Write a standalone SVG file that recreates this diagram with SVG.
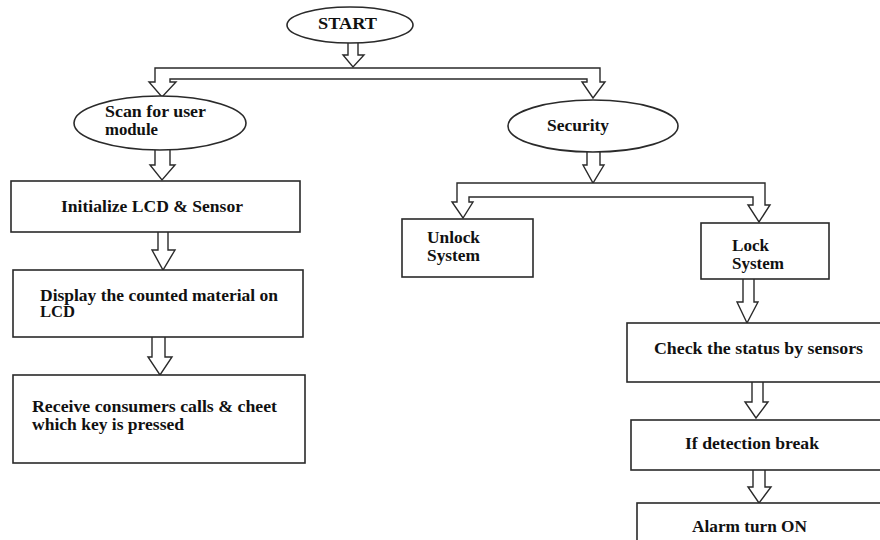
<svg xmlns="http://www.w3.org/2000/svg" width="880" height="540" viewBox="0 0 880 540">
<style>
.shape{fill:#fff;stroke:#2a2a2a;stroke-width:1.6}
.arr{fill:#fff;stroke:#2a2a2a;stroke-width:1.4;stroke-linejoin:miter}
text{font-family:"Liberation Serif","Times New Roman",serif;font-weight:bold;font-size:16px;fill:#111}
</style>
<rect width="880" height="540" fill="#fff"/>
<g id="connectors">
<path class="arr" d="M348,43 L348,55 L343,55 L353,67 L364,55 L358,55 L358,43"/>
<path class="arr" d="M155,68 L600,68 L600,82 L605,82 L593,98 L582,82 L587,82 L587,79 L170,79 L170,82 L176,82 L162,97 L149,82 L155,82 Z"/>
<path class="arr" d="M155,150 L155,165 L150,165 L162,180 L175,165 L170,165 L170,150"/>
<path class="arr" d="M158,232 L158,250 L152,250 L163,270 L175,250 L168,250 L168,232"/>
<path class="arr" d="M152,337 L152,357 L148,357 L160,375 L172,357 L165,357 L165,337"/>
<path class="arr" d="M587,152 L587,165 L583,165 L593,183 L604,165 L600,165 L600,152"/>
<path class="arr" d="M457,183 L765,183 L765,205 L770,205 L759,222 L748,205 L753,205 L753,197 L469,197 L469,202 L473,202 L463,218 L452,202 L457,202 Z"/>
<path class="arr" d="M743,279 L743,302 L737,302 L747,323 L758,302 L754,302 L754,279"/>
<path class="arr" d="M752,382 L752,402 L745,402 L756,418 L768,402 L763,402 L763,382"/>
<path class="arr" d="M753,470 L753,487 L748,487 L759,503 L771,487 L765,487 L765,470"/>
</g>
<g id="start">
<ellipse class="shape" cx="350" cy="25" rx="63" ry="18"/>
<text x="318" y="29" textLength="59" lengthAdjust="spacingAndGlyphs">START</text>
</g>
<g id="scan">
<ellipse class="shape" cx="160" cy="123" rx="86" ry="27"/>
<text x="105" y="117" textLength="101" lengthAdjust="spacingAndGlyphs">Scan for user</text>
<text x="105" y="135" textLength="53" lengthAdjust="spacingAndGlyphs">module</text>
</g>
<g id="init">
<rect class="shape" x="11" y="181" width="289" height="51"/>
<text x="61" y="212" textLength="182" lengthAdjust="spacingAndGlyphs">Initialize LCD &amp; Sensor</text>
</g>
<g id="display">
<rect class="shape" x="13" y="270" width="290" height="67"/>
<text x="40" y="301" textLength="238" lengthAdjust="spacingAndGlyphs">Display the counted material on</text>
<text x="40" y="317" textLength="35" lengthAdjust="spacingAndGlyphs">LCD</text>
</g>
<g id="receive">
<rect class="shape" x="13" y="375" width="292" height="88"/>
<text x="32" y="412" textLength="245" lengthAdjust="spacingAndGlyphs">Receive consumers calls &amp; cheet</text>
<text x="32" y="430" textLength="152" lengthAdjust="spacingAndGlyphs">which key is pressed</text>
</g>
<g id="security">
<ellipse class="shape" cx="593" cy="126" rx="85" ry="26"/>
<text x="547" y="131" textLength="62" lengthAdjust="spacingAndGlyphs">Security</text>
</g>
<g id="unlock">
<rect class="shape" x="402" y="219" width="131" height="58"/>
<text x="427" y="243" textLength="53" lengthAdjust="spacingAndGlyphs">Unlock</text>
<text x="427" y="261" textLength="53" lengthAdjust="spacingAndGlyphs">System</text>
</g>
<g id="lock">
<rect class="shape" x="701" y="223" width="128" height="56"/>
<text x="732" y="251" textLength="37" lengthAdjust="spacingAndGlyphs">Lock</text>
<text x="732" y="269" textLength="52" lengthAdjust="spacingAndGlyphs">System</text>
</g>
<g id="check">
<rect class="shape" x="627" y="323" width="260" height="59"/>
<text x="654" y="354" textLength="209" lengthAdjust="spacingAndGlyphs">Check the status by sensors</text>
</g>
<g id="detect">
<rect class="shape" x="631" y="420" width="256" height="50"/>
<text x="685" y="449" textLength="134" lengthAdjust="spacingAndGlyphs">If detection break</text>
</g>
<g id="alarm">
<rect class="shape" x="637" y="503" width="250" height="50"/>
<text x="692" y="532" textLength="115" lengthAdjust="spacingAndGlyphs">Alarm turn ON</text>
</g>
</svg>
